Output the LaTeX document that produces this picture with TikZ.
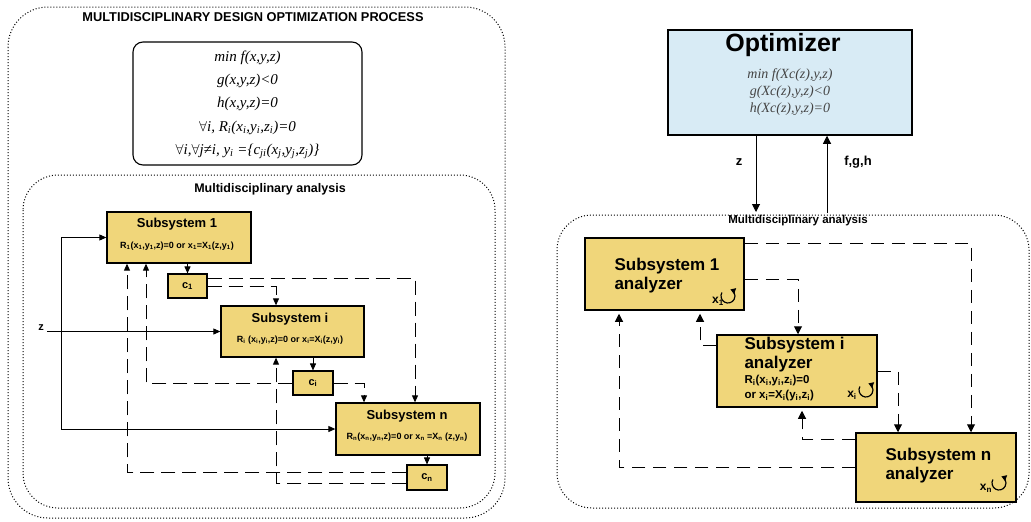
\documentclass[tikz,border=0pt]{standalone}
\usepackage{fontspec}
\setmainfont{Liberation Serif}
\setsansfont{Liberation Sans}
\usetikzlibrary{arrows.meta,calc}
\definecolor{gold}{HTML}{F0D67A}
\definecolor{optblue}{HTML}{D8EBF5}
\definecolor{formgray}{HTML}{444444}
\tikzset{
  sub/.style={draw=black, line width=1.3pt, fill=gold, inner sep=0pt},
  cbox/.style={draw=black, line width=1.1pt, fill=gold, inner sep=0pt, font=\sffamily\bfseries\fontsize{11}{12}\selectfont},
  conn/.style={line width=0.9pt, -{Triangle[length=7pt,width=6pt]}},
  dconn/.style={conn, dash pattern=on 14pt off 7pt},
  rconn/.style={line width=1pt, -{Triangle[length=8pt,width=8pt]}},
  rdconn/.style={rconn, dash pattern=on 13pt off 8pt},
  dotbox/.style={dotted, line width=1pt},
  ltitle/.style={font=\sffamily\bfseries\fontsize{12.5}{14}\selectfont},
  subtitle/.style={font=\sffamily\bfseries\fontsize{13}{15}\selectfont},
  subform/.style={font=\sffamily\bfseries\fontsize{9}{11}\selectfont},
  formline/.style={font=\itshape\fontsize{15}{17}\selectfont},
  optform/.style={font=\itshape\fontsize{14}{16}\selectfont, text=formgray},
  rsub/.style={font=\sffamily\bfseries\fontsize{17}{19}\selectfont, anchor=west},
  rform/.style={font=\sffamily\bfseries\fontsize{11.5}{13}\selectfont, anchor=west},
  loopl/.style={font=\sffamily\bfseries\fontsize{12}{13}\selectfont},
  loopc/.style={line width=1.2pt, -{Triangle[length=5pt,width=6pt]}},
  arrlabel/.style={font=\sffamily\bfseries\fontsize{13}{15}\selectfont},
}
\begin{document}
\begin{tikzpicture}[x=1pt,y=-1pt]
\useasboundingbox (0,0) rectangle (1031,522);

% ================= LEFT =================
\draw[dotbox, rounded corners=40pt] (8,7) rectangle (505,518);
\node[font=\sffamily\bfseries\fontsize{12.8}{14}\selectfont] (title) at (253,17) {MULTIDISCIPLINARY DESIGN OPTIMIZATION PROCESS};

\node[draw, line width=1.1pt, rounded corners=10pt, minimum width=229pt, minimum height=123pt] (form) at (247.5,103.5) {};
\node[formline] (f1) at (247.5,58) {min f(x,y,z)};
\node[formline] (f2) at (247.5,81) {g(x,y,z)<0};
\node[formline] (f3) at (247.5,104) {h(x,y,z)=0};
\node[formline] (f4) at (247.5,128) {$\forall$i, R\textsubscript{i}(x\textsubscript{i},y\textsubscript{i},z\textsubscript{i})=0};
\node[formline] (f5) at (247.5,151) {$\forall$i,$\forall$j≠i, y\textsubscript{i} =\{c\textsubscript{ji}(x\textsubscript{j},y\textsubscript{j},z\textsubscript{j})\}};

\draw[dotbox, rounded corners=35pt] (23,175) rectangle (495,508);
\node[ltitle] (mdaL) at (270,189) {Multidisciplinary analysis};

% subsystem boxes
\node[sub, minimum width=144pt, minimum height=51pt] (S1) at (179,237.5) {};
\node[subtitle] (S1t) at (177,224) {Subsystem 1};
\node[subform] (S1f) at (177,246) {R\textsubscript{1}(x\textsubscript{1},y\textsubscript{1},z)=0 or x\textsubscript{1}=X\textsubscript{1}(z,y\textsubscript{1})};

\node[cbox, minimum width=39pt, minimum height=24pt] (C1) at (187.5,286) {c\textsubscript{1}};

\node[sub, minimum width=143pt, minimum height=51pt] (Si) at (292.5,331.5) {};
\node[subtitle] (Sit) at (290,319) {Subsystem i};
\node[subform] (Sif) at (290,340) {R\textsubscript{i} (x\textsubscript{i},y\textsubscript{i},z)=0 or x\textsubscript{i}=X\textsubscript{i}(z,y\textsubscript{i})};

\node[cbox, minimum width=40pt, minimum height=24pt] (Ci) at (313,383) {c\textsubscript{i}};

\node[sub, minimum width=144pt, minimum height=52pt] (Sn) at (408,429) {};
\node[subtitle] (Snt) at (407,416) {Subsystem n};
\node[subform] (Snf) at (407,437) {R\textsubscript{n}(x\textsubscript{n},y\textsubscript{n},z)=0 or x\textsubscript{n} =X\textsubscript{n} (z,y\textsubscript{n})};

\node[cbox, minimum width=40pt, minimum height=25pt] (Cn) at (427,477.5) {c\textsubscript{n}};

% left connectors
\node[font=\sffamily\bfseries\fontsize{11}{12}\selectfont] (zl) at (41,328) {z};
\coordinate (zs) at (61,331.5);
\draw[conn] (zl.east |- Si.west) -- (Si.west);
\draw[conn] (zs) |- (S1.west);
\draw[conn] (zs) |- (Sn.west);

\draw[conn] (S1.south -| C1.north) -- (C1.north);
\draw[dconn] ([yshift=8pt]C1.east) -| ([xshift=7pt]Sn.north);
\draw[dconn] (C1.east) -| ([xshift=-16.5pt]Si.north);
\draw[conn] (Si.south -| Ci.north) -- (Ci.north);
\draw[dconn] (Ci.east) -| ([xshift=-44pt]Sn.north);
\draw[dconn] (Ci.west) -| ([xshift=-33pt]S1.south);
\draw[conn] (Sn.south -| Cn.north) -- (Cn.north);
\draw[dconn] ([yshift=5.5pt]Cn.west) -| ([xshift=-52pt]S1.south);
\draw[dconn] ([yshift=-5.5pt]Cn.west) -| ([xshift=-16.5pt]Si.south);

% ================= RIGHT =================
\node[draw, line width=1.5pt, fill=optblue, minimum width=244pt, minimum height=105pt] (Opt) at (790,82.5) {};
\node[font=\sffamily\bfseries\fontsize{25}{28}\selectfont] (Optt) at (783,45) {Optimizer};
\node[optform] (o1) at (790,75) {min f(Xc(z),y,z)};
\node[optform] (o2) at (790,92) {g(Xc(z),y,z)<0};
\node[optform] (o3) at (790,109) {h(Xc(z),y,z)=0};

\coordinate (zend) at (756,212);
\coordinate (fstart) at (827,213);
\draw[rconn] (Opt.south -| zend) -- (zend);
\draw[rconn] (fstart) -- (Opt.south -| fstart);
\node[arrlabel] (zr) at (739,162) {z};
\node[arrlabel] (fgh) at (858,162) {f,g,h};

\draw[dotbox, rounded corners=35pt] (557,215) rectangle (1029,508);
\node[font=\sffamily\bfseries\fontsize{11.5}{13}\selectfont] (mdaR) at (798,221) {Multidisciplinary analysis};

\node[sub, line width=1.5pt, minimum width=159pt, minimum height=72pt] (SA1) at (664.5,274) {};
\node[rsub] (SA1a) at (611,266) {Subsystem 1};
\node[rsub] (SA1b) at (611,285) {analyzer};
\draw[loopc] (728,296) ++(-210:7pt) arc[start angle=-210, end angle=70, radius=7pt];
\node[loopl] (x1) at (718,301) {x\textsubscript{1}};

\node[sub, line width=1.5pt, minimum width=160pt, minimum height=72pt] (SAi) at (797,371) {};
\node[rsub] (SAia) at (741,345) {Subsystem i};
\node[rsub] (SAib) at (741,364) {analyzer};
\node[rform] (SAic) at (741,381) {R\textsubscript{i}(x\textsubscript{i},y\textsubscript{i},z\textsubscript{i})=0};
\node[rform] (SAid) at (741,396) {or x\textsubscript{i}=X\textsubscript{i}(y\textsubscript{i},z\textsubscript{i})};
\draw[loopc] (866,390) ++(-210:7pt) arc[start angle=-210, end angle=70, radius=7pt];
\node[loopl] (xi) at (852,395) {x\textsubscript{i}};

\node[sub, line width=1.5pt, minimum width=160pt, minimum height=69pt] (SAn) at (936,467.5) {};
\node[rsub] (SAna) at (882,456) {Subsystem n};
\node[rsub] (SAnb) at (882,475) {analyzer};
\draw[loopc] (999,483) ++(-210:7pt) arc[start angle=-210, end angle=70, radius=7pt];
\node[loopl] (xn) at (986,488) {x\textsubscript{n}};

% right connectors
\draw[rdconn] ([yshift=31pt]SA1.east) -| ([xshift=35pt]SAn.north);
\draw[rdconn] ([yshift=-5pt]SA1.east) -| ([xshift=1pt]SAi.north);
\draw[rdconn] (SAi.east) -| ([xshift=-38pt]SAn.north);
\draw[rdconn, shorten >=3pt] ([yshift=28.5pt]SAn.west) -| ([xshift=5pt]SAi.south);
\draw[rdconn, shorten >=3pt] (SAn.west) -| ([xshift=-45.5pt]SA1.south);
\draw[rdconn, shorten >=3pt] ([yshift=26pt]SAi.west) -| ([xshift=35.5pt]SA1.south);
\end{tikzpicture}
\end{document}
